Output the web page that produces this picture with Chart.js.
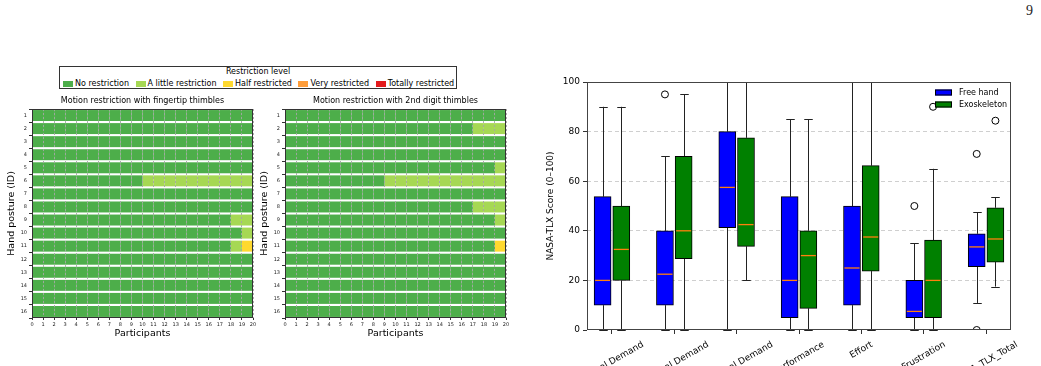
<!DOCTYPE html>
<html>
<head>
<meta charset="utf-8">
<script src="https://cdn.jsdelivr.net/npm/chart.js@4.4.0/dist/chart.umd.min.js"></script>
<style>
  body { margin: 0; background: #fff; width: 1041px; height: 366px; overflow: hidden; position: relative; font-family: "DejaVu Sans", sans-serif; }
  canvas { position: absolute; }
  #pageNum { position: absolute; left: 1026px; top: 4px; font: 14px "Liberation Serif", serif; line-height: 14px; color: #222; }
  #levelLegend { position: absolute; left: 59px; top: 66px; width: 396px; height: 21px; border: 1px solid #333; font-size: 8px; color: #000; }
  #levelLegend .ttl { position: absolute; left: 0; right: 0; top: 0; text-align: center; line-height: 10px; }
  #levelLegend .row { position: absolute; left: 3px; top: 12px; display: flex; align-items: center; white-space: nowrap; line-height: 10px; }
  #levelLegend .item { display: flex; align-items: center; margin-right: 6.5px; }
  #levelLegend i { display: inline-block; width: 10px; height: 6px; margin-right: 2px; }
</style>
</head>
<body>
<div id="pageNum">9</div>
<div id="levelLegend"><div class="ttl">Restriction level</div><div class="row"></div></div>
<canvas id="heatTip" width="262" height="252" style="left:0;top:92px"></canvas>
<canvas id="heatDigit" width="262" height="252" style="left:253px;top:92px"></canvas>
<canvas id="tlxBox" width="511" height="296" style="left:530px;top:70px"></canvas>
<script>
// restriction levels
const levels = ['No restriction', 'A little restriction', 'Half restricted', 'Very restricted', 'Totally restricted'];
const levelColors = ['#4dae4a', '#a6d854', '#ffd92f', '#ff9d3a', '#e41a1c'];
const postures = ['1', '2', '3', '4', '5', '6', '7', '8', '9', '10', '11', '12', '13', '14', '15', '16'];
const participants = [0, 1, 2, 3, 4, 5, 6, 7, 8, 9, 10, 11, 12, 13, 14, 15, 16, 17, 18, 19];

// one string per hand posture, one digit (level index) per participant
const fingertipLevels = [
  '00000000000000000000',
  '00000000000000000000',
  '00000000000000000000',
  '00000000000000000000',
  '00000000000000000000',
  '00000000001111111111',
  '00000000000000000000',
  '00000000000000000000',
  '00000000000000000011',
  '00000000000000000001',
  '00000000000000000012',
  '00000000000000000000',
  '00000000000000000000',
  '00000000000000000000',
  '00000000000000000000',
  '00000000000000000000'
];
const digitLevels = [
  '00000000000000000000',
  '00000000000000000111',
  '00000000000000000000',
  '00000000000000000000',
  '00000000000000000001',
  '00000000011111111111',
  '00000000000000000000',
  '00000000000000000111',
  '00000000000000000001',
  '00000000000000000000',
  '00000000000000000002',
  '00000000000000000000',
  '00000000000000000000',
  '00000000000000000000',
  '00000000000000000000',
  '00000000000000000000'
];

// NASA-TLX box plot
const tlxDims = ['Mental Demand', 'Physical Demand', 'Temporal Demand', 'Performance', 'Effort', 'Frustration', 'NASA_TLX_Total'];
const tlxPos = [1, 2, 3, 4, 5, 6, 7];
const freeMin = [0, 0, 0, 0, 0, 0, 10.9];
const freeQ1 = [10, 10, 41.25, 5, 10, 5, 25.5];
const freeMed = [20, 22.5, 57.5, 20, 25, 7.5, 33.5];
const freeQ3 = [53.75, 40, 80, 53.75, 50, 20, 38.8];
const freeMax = [90, 70, 100, 85, 100, 35, 47.5];
const freeOutliers = [[], [95], [], [], [], [50], [71, 0]];
const exoMin = [0, 0, 20, 0, 0, 0, 17.5];
const exoQ1 = [20, 28.75, 33.75, 8.75, 23.75, 5, 27.4];
const exoMed = [32.5, 40, 42.5, 30, 37.5, 20, 36.7];
const exoQ3 = [50, 70, 77.5, 40, 66.25, 36.25, 49.3];
const exoMax = [90, 95, 100, 85, 100, 65, 53.5];
const exoOutliers = [[], [], [], [], [], [90], [84.4]];

Chart.defaults.font.family = '"DejaVu Sans", sans-serif';
Chart.defaults.color = '#000';

// level legend (shared by both heat maps)
const legendRow = document.querySelector('#levelLegend .row');
levels.forEach((name, k) => {
  const item = document.createElement('span');
  item.className = 'item';
  item.innerHTML = '<i style="background:' + levelColors[k] + '"></i>' + name;
  legendRow.appendChild(item);
});

// axes frame
const frame = {
  id: 'frame',
  afterDraw(chart, args, opts) {
    const a = chart.chartArea, ctx = chart.ctx;
    ctx.save();
    ctx.strokeStyle = opts.color || '#333';
    ctx.lineWidth = 1;
    ctx.strokeRect(Math.round(a.left) + 0.5, Math.round(a.top) + 0.5, Math.round(a.right - a.left) - 1, Math.round(a.bottom - a.top) - 1);
    ctx.restore();
  }
};

function heatChart(id, title, grid) {
  const datasets = participants.map((p, j) => ({
    label: 'P' + (p + 1),
    data: grid.map(() => [p, p + 1]),
    backgroundColor: grid.map(row => levelColors[+row[j]]),
    borderWidth: 0,
    barPercentage: 0.84,
    categoryPercentage: 1,
    grouped: false
  }));
  new Chart(document.getElementById(id), {
    type: 'bar',
    data: { labels: postures, datasets: datasets },
    options: {
      indexAxis: 'y',
      responsive: false,
      animation: false,
      layout: { padding: { right: 9 } },
      plugins: {
        legend: { display: false },
        tooltip: { enabled: false },
        title: { display: true, text: title, fullSize: false, font: { size: 8, weight: 'normal' }, padding: { top: 4, bottom: 3.4 } },
        frame: { color: '#333' }
      },
      scales: {
        x: {
          type: 'linear', min: 0, max: 20,
          ticks: { stepSize: 1, font: { size: 5 }, color: '#222', padding: 2, maxRotation: 0, autoSkip: false },
          grid: { color: 'rgba(165,165,165,0.9)', z: 1, tickLength: 2, tickColor: '#333' },
          border: { display: false, dash: [2, 2] },
          title: { display: true, text: 'Participants', font: { size: 9.5 }, padding: { top: 0, bottom: 4.3 } },
          afterFit(s) { s.height = 26; }
        },
        y: {
          ticks: { font: { size: 5 }, color: '#222', padding: 2, autoSkip: false },
          grid: { drawOnChartArea: false, tickLength: 3, tickColor: '#333' },
          border: { display: false },
          title: { display: true, text: 'Hand posture (ID)', font: { size: 9.5 }, padding: { top: 6.3, bottom: 0 } },
          afterFit(s) { s.width = 32; }
        }
      }
    },
    plugins: [frame]
  });
}

heatChart('heatTip', 'Motion restriction with fingertip thimbles', fingertipLevels);
heatChart('heatDigit', 'Motion restriction with 2nd digit thimbles', digitLevels);

// box plot
const groupShift = 0.15;
const boxSeries = [
  { label: 'Free hand', color: '#0000ff', shift: -groupShift, min: freeMin, q1: freeQ1, med: freeMed, q3: freeQ3, max: freeMax, out: freeOutliers },
  { label: 'Exoskeleton', color: '#008000', shift: groupShift, min: exoMin, q1: exoQ1, med: exoMed, q3: exoQ3, max: exoMax, out: exoOutliers }
];

const boxDatasets = boxSeries.map(s => ({
  label: s.label,
  data: tlxPos.map((p, i) => ({ x: p + s.shift, y: [s.q1[i], s.q3[i]] })),
  backgroundColor: s.color,
  borderColor: '#000',
  borderWidth: 1,
  borderSkipped: false,
  barThickness: 17,
  grouped: false
}));

const outlierPoints = [];
boxSeries.forEach(s => {
  s.out.forEach((vals, i) => vals.forEach(v => outlierPoints.push({ x: tlxPos[i] + s.shift, y: v })));
});

function seg(ctx, x1, y1, x2, y2) {
  ctx.beginPath();
  ctx.moveTo(x1, y1);
  ctx.lineTo(x2, y2);
  ctx.stroke();
}

const boxGlyphs = {
  id: 'boxGlyphs',
  beforeDatasetsDraw(chart) {
    const ctx = chart.ctx, y = chart.scales.y;
    ctx.save();
    ctx.strokeStyle = '#222';
    ctx.lineWidth = 1;
    boxSeries.forEach((s, di) => {
      chart.getDatasetMeta(di).data.forEach((bar, i) => {
        const x = Math.round(bar.x) + 0.5, cap = bar.width / 4;
        const yMin = y.getPixelForValue(s.min[i]), yMax = y.getPixelForValue(s.max[i]);
        seg(ctx, x, y.getPixelForValue(s.q1[i]), x, yMin);
        seg(ctx, x, y.getPixelForValue(s.q3[i]), x, yMax);
        seg(ctx, x - cap, Math.round(yMin) + 0.5, x + cap, Math.round(yMin) + 0.5);
        seg(ctx, x - cap, Math.round(yMax) + 0.5, x + cap, Math.round(yMax) + 0.5);
      });
    });
    ctx.restore();
  },
  afterDatasetsDraw(chart) {
    const ctx = chart.ctx, y = chart.scales.y;
    ctx.save();
    ctx.strokeStyle = '#ff7f0e';
    ctx.lineWidth = 1.3;
    boxSeries.forEach((s, di) => {
      chart.getDatasetMeta(di).data.forEach((bar, i) => {
        const ym = y.getPixelForValue(s.med[i]);
        seg(ctx, bar.x - bar.width / 2 + 1, ym, bar.x + bar.width / 2 - 1, ym);
      });
    });
    ctx.restore();
  },
  afterDraw(chart) {
    const ctx = chart.ctx, a = chart.chartArea, xs = chart.scales.x;
    // legend
    ctx.save();
    ctx.font = '8px "DejaVu Sans"';
    ctx.textBaseline = 'middle';
    boxSeries.forEach((s, k) => {
      const lx = a.right - 76, ly = a.top + 7.5 + k * 12;
      ctx.fillStyle = s.color;
      ctx.fillRect(lx, ly, 17, 6);
      ctx.strokeStyle = '#000';
      ctx.lineWidth = 1;
      ctx.strokeRect(lx + 0.5, ly + 0.5, 16, 5);
      ctx.fillStyle = '#000';
      ctx.fillText(s.label, lx + 24, ly + 3.3);
    });
    // slanted category labels, centred on their ticks
    const ang = 30 * Math.PI / 180, fs = 9;
    ctx.font = fs + 'px "DejaVu Sans"';
    ctx.textAlign = 'center';
    tlxDims.forEach((lab, i) => {
      const w = ctx.measureText(lab).width;
      const bh = w * Math.sin(ang) + fs * Math.cos(ang);
      ctx.save();
      ctx.translate(xs.getPixelForValue(tlxPos[i]), a.bottom + 10 + bh / 2);
      ctx.rotate(-ang);
      ctx.fillText(lab, 0, 0);
      ctx.restore();
    });
    ctx.restore();
  }
};

new Chart(document.getElementById('tlxBox'), {
  type: 'bar',
  data: {
    datasets: [
      ...boxDatasets,
      {
        type: 'scatter',
        label: 'Outliers',
        data: outlierPoints,
        pointRadius: 3.5,
        pointBackgroundColor: 'rgba(0,0,0,0)',
        pointBorderColor: '#000',
        pointBorderWidth: 1,
        clip: 0
      }
    ]
  },
  options: {
    responsive: false,
    animation: false,
    layout: { padding: { top: 12, right: 30 } },
    plugins: {
      legend: { display: false },
      tooltip: { enabled: false },
      frame: { color: '#444' }
    },
    scales: {
      x: {
        type: 'linear', min: 0.6, max: 7.4, offset: false,
        afterBuildTicks(s) { s.ticks = tlxPos.map(v => ({ value: v })); },
        ticks: { color: 'rgba(0,0,0,0)', maxRotation: 0, autoSkip: false },
        grid: { drawOnChartArea: false, tickLength: 4, tickColor: '#333', offset: false },
        border: { display: false },
        afterFit(s) { s.height = 36; }
      },
      y: {
        min: 0, max: 100,
        ticks: { stepSize: 20, font: { size: 9 }, padding: 3 },
        grid: {
          color: c => (c.tick && (c.tick.value === 0 || c.tick.value === 100)) ? 'rgba(0,0,0,0)' : '#cfcfcf',
          tickLength: 4, tickColor: '#333'
        },
        border: { display: false, dash: [4, 3] },
        title: { display: true, text: 'NASA-TLX Score (0–100)', font: { size: 9 }, padding: { top: 15.6, bottom: 0 } },
        afterFit(s) { s.width = 57; }
      }
    }
  },
  plugins: [frame, boxGlyphs]
});
</script>
</body>
</html>
